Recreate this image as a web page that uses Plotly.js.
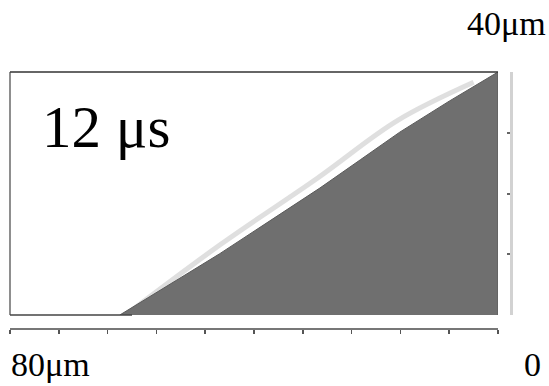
<!DOCTYPE html>
<html>
<head>
<meta charset="utf-8">
<script src="https://cdn.plot.ly/plotly-3.0.1.min.js"></script>
<style>html,body{margin:0;padding:0;background:#fff;}#chart{width:549px;height:386px;}</style>
</head>
<body>
<div id="chart"></div>
<script>
// Interface (liquid/solid boundary) in micrometres, x measured from right edge
var boundaryX = [62.0, 54.0, 45.6, 37.4, 29.2, 22.5, 16.1, 8.0, 0];
var boundaryY = [0, 4.9, 10.1, 15.5, 20.9, 25.6, 30.1, 35.2, 40];
// Faint film band just above the interface
var filmX = [60.0, 45.5, 29.5, 16.5, 4.0];
var filmY = [0.8, 11.6, 22.6, 32.0, 38.3];
var timeLabel = "12 μs";
var heightLabel = "40μm";
var widthLabel = "80μm";
var zeroLabel = "0";
var xRange = [80, 0];
var yRange = [0, 40];

var fillX = boundaryX.concat([0]);
var fillY = boundaryY.concat([0]);

var traces = [
  {x: filmX, y: filmY, type: 'scatter', mode: 'lines',
   line: {color: 'rgba(150,150,150,0.3)', width: 5, shape: 'spline'}, hoverinfo: 'skip'},
  {x: fillX, y: fillY, type: 'scatter', mode: 'lines', fill: 'toself',
   fillcolor: '#6f6f6f', line: {color: '#5a5a5a', width: 1}, hoverinfo: 'skip'}
];

var serif = 'Liberation Serif';
function px(x) { return (x - 10) / 510; }
function py(y) { return (330 - y) / 258; }

var layout = {
  width: 549, height: 386,
  margin: {l: 10, r: 29, t: 72, b: 56, pad: 0},
  paper_bgcolor: '#fff', plot_bgcolor: '#fff',
  showlegend: false,
  font: {family: serif},
  xaxis: {range: xRange, domain: [0, px(498)], anchor: 'free', position: py(328),
          showgrid: false, zeroline: false, showline: true, linecolor: '#777', linewidth: 1.5,
          ticks: 'outside', ticklen: 4, tickwidth: 1.5, tickcolor: '#555',
          tick0: 0, dtick: 8, showticklabels: false, fixedrange: true},
  yaxis: {range: yRange, domain: [py(315), 1], anchor: 'free', position: px(511), side: 'right',
          showgrid: false, zeroline: false, showline: true, linecolor: '#d2d2d2', linewidth: 3,
          ticks: 'inside', ticklen: 3, tickwidth: 2, tickcolor: '#666',
          tick0: 0, dtick: 10, showticklabels: false, fixedrange: true},
  shapes: [
    {type: 'line', xref: 'x domain', yref: 'y domain', x0: 0, x1: 1, y0: 1, y1: 1, line: {color: '#333', width: 1.5}},
    {type: 'line', xref: 'x domain', yref: 'y domain', x0: 0, x1: 0, y0: 0, y1: 1, line: {color: '#444', width: 1.2}},
    {type: 'line', xref: 'x domain', yref: 'y domain', x0: 0, x1: 0.25, y0: 0, y1: 0, line: {color: '#444', width: 1.5}}
  ],
  annotations: [
    {text: timeLabel, xref: 'paper', yref: 'paper', x: px(40), y: py(127), xanchor: 'left', yanchor: 'middle',
     showarrow: false, font: {family: serif, size: 59, color: '#000'}},
    {text: heightLabel, xref: 'paper', yref: 'paper', x: px(548), y: py(24), xanchor: 'right', yanchor: 'middle',
     showarrow: false, font: {family: serif, size: 34, color: '#000'}},
    {text: widthLabel, xref: 'paper', yref: 'paper', x: px(9), y: py(364), xanchor: 'left', yanchor: 'middle',
     showarrow: false, font: {family: serif, size: 34, color: '#000'}},
    {text: zeroLabel, xref: 'paper', yref: 'paper', x: px(543), y: py(364), xanchor: 'right', yanchor: 'middle',
     showarrow: false, font: {family: serif, size: 34, color: '#000'}}
  ]
};

Plotly.newPlot('chart', traces, layout, {displayModeBar: false, staticPlot: true});
</script>
</body>
</html>
